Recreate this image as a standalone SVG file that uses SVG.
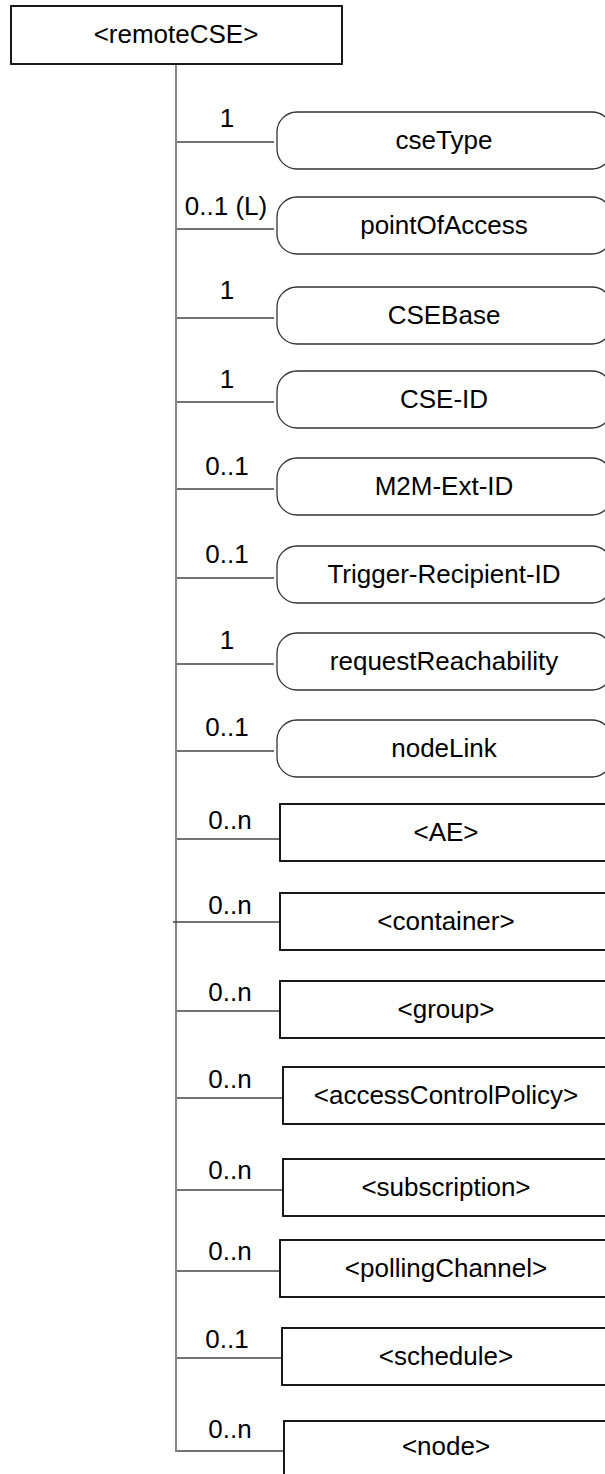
<svg xmlns="http://www.w3.org/2000/svg" width="605" height="1474" viewBox="0 0 605 1474">
<style>
text{font-family:"Liberation Sans",Arial,sans-serif;font-size:26px;fill:#000;text-anchor:middle}
.rr{fill:#fff;stroke:#333;stroke-width:1.3}
.rb{fill:#fff;stroke:#000;stroke-width:1.8}
.cn line{stroke:#444;stroke-width:1.3}
</style>
<rect width="605" height="1474" fill="#fff"/>
<g id="connectors" class="cn">
<line x1="176" y1="64" x2="176" y2="1452"/>
<line x1="177" y1="142" x2="274" y2="142"/>
<line x1="177" y1="229" x2="274" y2="229"/>
<line x1="177" y1="318" x2="274" y2="318"/>
<line x1="177" y1="402" x2="274" y2="402"/>
<line x1="177" y1="489" x2="274" y2="489"/>
<line x1="177" y1="578" x2="274" y2="578"/>
<line x1="177" y1="664" x2="274" y2="664"/>
<line x1="177" y1="751" x2="274" y2="751"/>
<line x1="177" y1="839" x2="280" y2="839"/>
<line x1="173" y1="922" x2="280" y2="922"/>
<line x1="177" y1="1011" x2="280" y2="1011"/>
<line x1="177" y1="1098" x2="283" y2="1098"/>
<line x1="177" y1="1190" x2="283" y2="1190"/>
<line x1="177" y1="1271" x2="280" y2="1271"/>
<line x1="177" y1="1358" x2="282" y2="1358"/>
<line x1="177" y1="1451" x2="284" y2="1451"/>
<text x="227" y="127">1</text>
<text x="226" y="215">0..1 (L)</text>
<text x="227" y="299">1</text>
<text x="227" y="388">1</text>
<text x="227" y="475">0..1</text>
<text x="227" y="563">0..1</text>
<text x="227" y="649">1</text>
<text x="227" y="736">0..1</text>
<text x="230" y="829">0..n</text>
<text x="230" y="914">0..n</text>
<text x="230" y="1001">0..n</text>
<text x="230" y="1088">0..n</text>
<text x="230" y="1179">0..n</text>
<text x="230" y="1260">0..n</text>
<text x="227" y="1348">0..1</text>
<text x="230" y="1438">0..n</text>
</g>
<g id="remoteCSE"><rect class="rb" x="11" y="6" width="331" height="58"/><text x="176" y="43">&lt;remoteCSE&gt;</text></g>
<g id="cseType"><rect class="rr" x="277" y="112" width="335" height="57" rx="20" ry="20"/><text x="444" y="149">cseType</text></g>
<g id="pointOfAccess"><rect class="rr" x="277" y="197" width="335" height="57" rx="20" ry="20"/><text x="444" y="234">pointOfAccess</text></g>
<g id="CSEBase"><rect class="rr" x="277" y="287" width="335" height="57" rx="20" ry="20"/><text x="444" y="324">CSEBase</text></g>
<g id="CSE-ID"><rect class="rr" x="277" y="371" width="335" height="57" rx="20" ry="20"/><text x="444" y="408">CSE-ID</text></g>
<g id="M2M-Ext-ID"><rect class="rr" x="277" y="458" width="335" height="57" rx="20" ry="20"/><text x="444" y="495">M2M-Ext-ID</text></g>
<g id="Trigger-Recipient-ID"><rect class="rr" x="277" y="546" width="335" height="57" rx="20" ry="20"/><text x="444" y="583">Trigger-Recipient-ID</text></g>
<g id="requestReachability"><rect class="rr" x="277" y="633" width="335" height="57" rx="20" ry="20"/><text x="444" y="670">requestReachability</text></g>
<g id="nodeLink"><rect class="rr" x="277" y="720" width="335" height="57" rx="20" ry="20"/><text x="444" y="757">nodeLink</text></g>
<g id="AE"><rect class="rb" x="280" y="804" width="332" height="57"/><text x="446" y="841">&lt;AE&gt;</text></g>
<g id="container"><rect class="rb" x="280" y="893" width="332" height="57"/><text x="446" y="930">&lt;container&gt;</text></g>
<g id="group"><rect class="rb" x="280" y="981" width="332" height="57"/><text x="446" y="1018">&lt;group&gt;</text></g>
<g id="accessControlPolicy"><rect class="rb" x="283" y="1067" width="332" height="57"/><text x="446" y="1104">&lt;accessControlPolicy&gt;</text></g>
<g id="subscription"><rect class="rb" x="283" y="1159" width="332" height="57"/><text x="446" y="1196">&lt;subscription&gt;</text></g>
<g id="pollingChannel"><rect class="rb" x="280" y="1240" width="332" height="57"/><text x="446" y="1277">&lt;pollingChannel&gt;</text></g>
<g id="schedule"><rect class="rb" x="282" y="1328" width="332" height="57"/><text x="446" y="1365">&lt;schedule&gt;</text></g>
<g id="node"><rect class="rb" x="284" y="1421" width="332" height="70"/><text x="446" y="1455">&lt;node&gt;</text></g>
</svg>
